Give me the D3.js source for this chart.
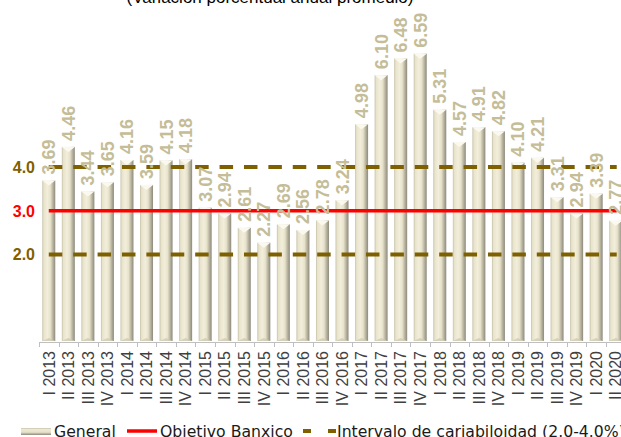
<!DOCTYPE html>
<html><head><meta charset="utf-8">
<script src="https://cdn.jsdelivr.net/npm/d3@7"></script>
<style>
html,body{margin:0;padding:0;background:#fff;overflow:hidden;}
svg{display:block;}
</style>
</head><body>
<svg id="chart" width="621" height="437"></svg>
<script>
const categories = ["I 2013","II 2013","III 2013","IV 2013","I 2014","II 2014","III 2014","IV 2014",
  "I 2015","II 2015","III 2015","IV 2015","I 2016","II 2016","III 2016","IV 2016",
  "I 2017","II 2017","III 2017","IV 2017","I 2018","II 2018","III 2018","IV 2018",
  "I 2019","II 2019","III 2019","IV 2019","I 2020","II 2020"];
const generalValues = [3.69,4.46,3.44,3.65,4.16,3.59,4.15,4.18,3.07,2.94,2.61,2.27,2.69,2.56,2.78,3.24,
  4.98,6.10,6.48,6.59,5.31,4.57,4.91,4.82,4.10,4.21,3.31,2.94,3.39,2.77];
const targetValue = 3.0;
const rangeValues = [4.0, 2.0];
const yTickValues = [4.0, 3.0, 2.0];
const legendLabels = ["General","Objetivo Banxico","Intervalo de cariabiloidad (2.0-4.0%)"];
const titleText = "(Variación porcentual anual promedio)";

const svg = d3.select("#chart");
const gold = "#7f6000", red = "#ff0000", labelColor = "#c4bd97";

const x = d3.scaleBand().domain(categories).range([39, 625.5]).paddingInner(0.335).paddingOuter(0.1675);
const y = d3.scaleLinear().domain([0, 7]).range([342, 342 - 7 * 43.75]);

// gradients
const defs = svg.append("defs");
const g1 = defs.append("linearGradient").attr("id","barGrad").attr("x1","0").attr("x2","1").attr("y1","0").attr("y2","0");
[["0%","#c6c1a9"],["12%","#e8e3cb"],["40%","#f2eedb"],["62%","#e7e2ca"],["80%","#bbb7a3"],["100%","#8d8a7d"]]
  .forEach(s => g1.append("stop").attr("offset", s[0]).attr("stop-color", s[1]));
const g2 = defs.append("linearGradient").attr("id","legGrad").attr("x1","0").attr("x2","0").attr("y1","0").attr("y2","1");
[["0%","#c6c1a9"],["20%","#ece8d3"],["60%","#e7e2ca"],["100%","#8d8a7d"]]
  .forEach(s => g2.append("stop").attr("offset", s[0]).attr("stop-color", s[1]));

// title
svg.append("text").attr("x", 270).attr("y", 3).attr("text-anchor","middle")
  .attr("font-family","'Liberation Sans', Arial, sans-serif").attr("font-size", 17).attr("fill","#000")
  .text(titleText);

// bars
const bw = x.bandwidth();
const data = categories.map((c,i) => ({c, v: generalValues[i]}));
const bars = svg.append("g");
bars.selectAll("rect").data(data).join("rect")
  .attr("x", d => x(d.c)).attr("width", bw)
  .attr("y", d => y(d.v)).attr("height", d => y(0) - 1 - y(d.v))
  .attr("fill","url(#barGrad)");
// top bevel
bars.selectAll("path.top").data(data).join("path").attr("class","top")
  .attr("d", d => {
    const x0 = x(d.c), x1 = x0 + bw, yt = y(d.v), xm = x0 + bw/2;
    return `M${x0},${yt}L${x1},${yt}L${xm},${yt+5}Z`;
  }).attr("fill","#fbf9ef");
bars.selectAll("path.bot").data(data).join("path").attr("class","bot")
  .attr("d", d => {
    const x0 = x(d.c), x1 = x0 + bw, yb = y(0) - 1, xm = x0 + bw/2;
    return `M${x0},${yb}L${x1},${yb}L${xm},${yb-3}Z`;
  }).attr("fill","#cfcab3").attr("opacity",0.8);

// x axis
const step = x.step(), offs = (step - bw) / 2;
svg.append("line").attr("x1", 39).attr("x2", 621).attr("y1", y(0)+0.5).attr("y2", y(0)+0.5)
  .attr("stroke","#bfbfbf").attr("stroke-width",1);
svg.append("g").selectAll("line").data(categories).join("line")
  .attr("x1", d => Math.round(x(d) - offs) + 0.5).attr("x2", d => Math.round(x(d) - offs) + 0.5)
  .attr("y1", y(0)).attr("y2", y(0) + 5).attr("stroke","#bfbfbf");
svg.append("g").selectAll("text").data(categories).join("text")
  .attr("transform", d => `translate(${x(d) + bw/2},351) rotate(-90)`)
  .attr("text-anchor","end").attr("dy","0.36em")
  .attr("font-family","'Liberation Sans', Arial, sans-serif").attr("font-size", 16).attr("fill","#404040")
  .text(d => d);

// reference lines
const xStart = x(categories[0]) + bw/2, xEnd = x(categories[categories.length-1]) + bw/2 + 1;
svg.append("g").selectAll("line").data(rangeValues).join("line")
  .attr("x1", xStart).attr("x2", xEnd).attr("y1", d => y(d)).attr("y2", d => y(d))
  .attr("stroke", gold).attr("stroke-width", 4).attr("stroke-dasharray","13.5,10.9");
svg.append("line").attr("x1", xStart).attr("x2", xEnd).attr("y1", y(targetValue)).attr("y2", y(targetValue))
  .attr("stroke", red).attr("stroke-width", 3.5);

// y labels
svg.append("g").selectAll("text").data(yTickValues).join("text")
  .attr("x", 35).attr("y", d => y(d)).attr("dy","0.36em").attr("text-anchor","end")
  .attr("font-family","'Liberation Sans', Arial, sans-serif").attr("font-weight","bold").attr("font-size", 16)
  .attr("fill", d => d === targetValue ? red : gold)
  .text(d => d3.format(".1f")(d));

// data labels
svg.append("g").selectAll("text").data(data).join("text")
  .attr("transform", d => `translate(${x(d.c) + bw/2},${y(d.v) - 6}) rotate(-90)`)
  .attr("text-anchor","start").attr("dy","0.36em")
  .attr("font-family","'Liberation Sans', Arial, sans-serif").attr("font-weight","bold").attr("font-size", 18)
  .attr("fill", labelColor)
  .text(d => d3.format(".2f")(d.v));

// legend
const leg = svg.append("g").attr("font-family","'DejaVu Sans', sans-serif").attr("font-size", 15.7).attr("fill","#1a1a1a");
const ly = 431;
leg.append("rect").attr("x", 21).attr("y", ly - 3).attr("width", 30).attr("height", 7).attr("fill","url(#legGrad)");
leg.append("text").attr("x", 54).attr("y", ly).attr("dy","0.36em").text(legendLabels[0]);
leg.append("line").attr("x1", 127).attr("x2", 157).attr("y1", ly).attr("y2", ly).attr("stroke", red).attr("stroke-width", 3.5);
leg.append("text").attr("x", 160).attr("y", ly).attr("dy","0.36em").text(legendLabels[1]);
leg.append("line").attr("x1", 303).attr("x2", 336).attr("y1", ly).attr("y2", ly).attr("stroke", gold).attr("stroke-width", 4).attr("stroke-dasharray","8,17");
leg.append("text").attr("x", 337).attr("y", ly).attr("dy","0.36em").text(legendLabels[2]);
</script>
</body></html>
